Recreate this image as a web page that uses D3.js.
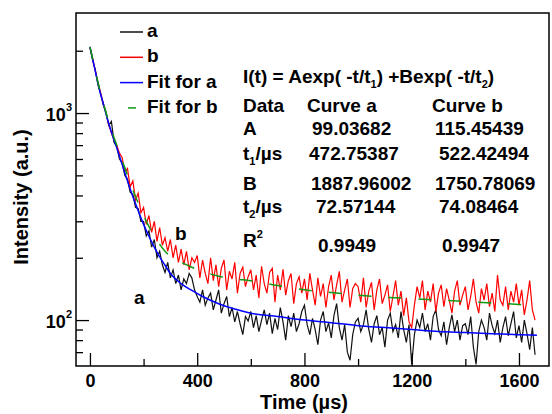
<!DOCTYPE html>
<html>
<head>
<meta charset="utf-8">
<script src="https://cdn.jsdelivr.net/npm/d3@7"></script>
<style>
  body { margin: 0; background: #fff; }
  svg text { font-family: "Liberation Sans", Arial, sans-serif; font-weight: bold; fill: #000; }
</style>
</head>
<body>
<div id="chart"></div>
<script>
// time axis for the measured decays, 10 us steps
var timeStep = 10;

// curve a (black), intensity in a.u.
var curveA = [
  2085, 1800, 1620, 1370, 1240, 1090, 1010, 870, 910, 720, 690, 600, 575, 500, 480, 415, 405, 350, 345, 300,
  300, 255, 270, 225, 245, 200, 215, 185, 170, 190, 160, 175, 150, 165, 140, 158, 150, 168, 160, 140,
  130, 122, 140, 118, 128, 135, 112, 125, 140, 108, 120, 130, 104, 115, 98, 110, 96, 85, 104, 99,
  110, 92, 105, 88, 100, 112, 95, 108, 86, 102, 90, 115, 98, 80, 105, 93, 108, 88, 96, 110,
  118, 95, 85, 102, 90, 76, 100, 110, 88, 97, 82, 105, 120, 92, 80, 95, 70, 64, 85, 98,
  102, 88, 95, 112, 90, 78, 96, 105, 85, 92, 74, 100, 108, 88, 95, 82, 110, 90, 78, 95,
  61, 85, 100, 92, 108, 88, 96, 80, 104, 112, 90, 84, 98, 76, 92, 106, 88, 100, 80, 94,
  96, 85, 104, 74, 61, 88, 100, 92, 80, 108, 94, 86, 100, 78, 92, 104, 84, 96, 110, 82,
  94, 78, 100, 86, 72, 92, 68
];

// curve b (red)
var curveB = [
  2085, 1830, 1600, 1400, 1250, 1110, 1000, 880, 800, 740, 700, 640, 610, 520, 540, 440, 470, 380, 410, 330,
  350, 290, 320, 265, 300, 240, 280, 230, 250, 215, 245, 200, 230, 190, 220, 185, 215, 175, 200, 190,
  205, 160, 195, 168, 150, 200, 155, 185, 145, 178, 195, 140, 172, 158, 190, 135, 168, 180, 145, 162,
  175, 140, 165, 128, 182, 150, 135, 170, 178, 122, 165, 140, 176, 132, 155, 168, 120, 150, 162, 135,
  158, 125, 168, 140, 118, 160, 130, 150, 115, 145, 165, 125, 148, 172, 122, 140, 158, 115, 142, 150,
  145, 122, 160, 115, 138, 152, 112, 140, 158, 120, 132, 148, 110, 130, 155, 118, 138, 105, 128, 98,
  92, 118, 145, 128, 155, 112, 138, 122, 150, 110, 135, 148, 116, 142, 125, 108, 138, 155, 118, 132,
  145, 112, 130, 158, 122, 108, 142, 125, 150, 116, 135, 110, 165, 125, 118, 145, 112, 138, 122, 150,
  118, 140, 106, 125, 155, 112, 100
];

// fitted curves
var fitTime = [0, 10, 20, 30, 40, 50, 60, 70, 80, 90, 100, 110, 120, 130, 140, 150, 160, 170, 180, 190,
  200, 220, 240, 260, 280, 300, 340, 380, 420, 480, 540, 600, 700, 800, 900, 1000, 1100, 1200, 1300,
  1400, 1500, 1600, 1667];
var fitA = [2085, 1820, 1590, 1390, 1230, 1110, 990, 890, 810, 740, 680, 620, 565, 515, 470, 430, 395, 365, 337, 312,
  290, 254, 225, 202, 184, 168, 150, 139, 130, 120, 113, 108, 104, 100, 97, 94, 92, 90, 88,
  87, 86, 85, 84.5];
var fitB = [2085, 1830, 1600, 1410, 1250, 1120, 1005, 910, 830, 760, 700, 640, 590, 545, 500, 460, 425, 395, 368, 342,
  320, 283, 255, 232, 215, 203, 190, 180, 172, 163, 158, 155, 147, 140, 136, 132, 129, 127, 125,
  123, 121, 119, 118];

var xTicks = [0, 400, 800, 1200, 1600];
var xMinor = [200, 600, 1000, 1400];
var yMajor = [100, 1000];
var yMinor = [70, 80, 90, 200, 300, 400, 500, 600, 700, 800, 900, 2000];

var legendLabels = ["a", "b", "Fit for a", "Fit for b"];

var tableHead = ["Data", "Curve a", "Curve b"];
var rowNames = ["A", "t1/µs", "B", "t2/µs", "R2"];
var paramsA = ["99.03682", "472.75387", "1887.96002", "72.57144", "0.9949"];
var paramsB = ["115.45439", "522.42494", "1750.78069", "74.08464", "0.9947"];

var colors = { a: "#111", b: "#ff0000", fitA: "#0000ff", fitB: "#119911" };

var W = 552, H = 414;
var plot = { left: 76, right: 549, top: 13, bottom: 366 };

var svg = d3.select("#chart").append("svg")
    .attr("width", W)
    .attr("height", H);

var x = d3.scaleLinear().domain([-52, 1712]).range([plot.left, plot.right]);
var y = d3.scaleLog().domain([60, 3043]).range([plot.bottom, plot.top]);

function series(vals, step) {
    return vals.map(function(v, i) { return { t: i * step, v: v }; });
}
function fitSeries(vals) {
    return vals.map(function(v, i) { return { t: fitTime[i], v: v }; });
}

var line = d3.line()
    .x(function(d) { return x(d.t); })
    .y(function(d) { return y(d.v); });
var smooth = d3.line()
    .x(function(d) { return x(d.t); })
    .y(function(d) { return y(d.v); })
    .curve(d3.curveMonotoneX);

var g = svg.append("g");

g.append("path").attr("d", line(series(curveA, timeStep)))
    .attr("fill", "none").attr("stroke", colors.a).attr("stroke-width", 1.2);
g.append("path").attr("d", line(series(curveB, timeStep)))
    .attr("fill", "none").attr("stroke", colors.b).attr("stroke-width", 1.2);
g.append("path").attr("d", smooth(fitSeries(fitA)))
    .attr("fill", "none").attr("stroke", colors.fitA).attr("stroke-width", 1.5);
g.append("path").attr("d", smooth(fitSeries(fitB)))
    .attr("fill", "none").attr("stroke", colors.fitB).attr("stroke-width", 1.5)
    .attr("stroke-dasharray", "13,17");

// axes, ticks pointing inward
var xAxis = svg.append("g")
    .attr("transform", "translate(0," + plot.bottom + ")")
    .call(d3.axisBottom(x).tickValues(xTicks).tickSizeInner(-13).tickSizeOuter(0)
        .tickPadding(8).tickFormat(d3.format("d")));
svg.append("g")
    .attr("transform", "translate(0," + plot.bottom + ")")
    .call(d3.axisBottom(x).tickValues(xMinor).tickSizeInner(-7).tickSizeOuter(0).tickFormat(""));
svg.append("g")
    .attr("transform", "translate(" + plot.left + ",0)")
    .call(d3.axisLeft(y).tickValues(yMajor).tickSizeInner(-13).tickSizeOuter(0).tickFormat(""));
svg.append("g")
    .attr("transform", "translate(" + plot.left + ",0)")
    .call(d3.axisLeft(y).tickValues(yMinor).tickSizeInner(-7).tickSizeOuter(0).tickFormat(""));
svg.selectAll(".domain").remove();
svg.selectAll(".tick line").attr("stroke", "#000").attr("stroke-width", 1.3);
xAxis.selectAll("text").attr("font-size", 18).attr("font-family", null);

svg.append("rect")
    .attr("x", plot.left).attr("y", plot.top)
    .attr("width", plot.right - plot.left).attr("height", plot.bottom - plot.top)
    .attr("fill", "none").attr("stroke", "#000").attr("stroke-width", 1.5);

// y tick labels 10^n
yMajor.forEach(function(v) {
    var t = svg.append("text")
        .attr("x", 72).attr("y", y(v) + 8)
        .attr("text-anchor", "end")
        .attr("font-size", 18);
    t.append("tspan").text("10");
    t.append("tspan").attr("font-size", 11).attr("dy", -10).text(Math.round(Math.log10(v)));
});

// axis titles
svg.append("text")
    .attr("x", 304).attr("y", 409)
    .attr("text-anchor", "middle")
    .attr("font-size", 20)
    .text("Time (µs)");
svg.append("text")
    .attr("transform", "translate(28,197) rotate(-90)")
    .attr("text-anchor", "middle")
    .attr("font-size", 20)
    .text("Intensity (a.u.)");

// legend
var legendColors = [colors.a, colors.b, colors.fitA, colors.fitB];
legendLabels.forEach(function(lab, i) {
    var by = 37 + i * 25.3;
    var l = svg.append("line")
        .attr("x1", 120).attr("x2", 143)
        .attr("y1", by - 5).attr("y2", by - 5)
        .attr("stroke", legendColors[i]).attr("stroke-width", 1.5);
    if (i == 3) l.attr("x1", 128).attr("x2", 136);
    svg.append("text")
        .attr("x", 147).attr("y", by)
        .attr("font-size", 19)
        .text(lab);
});

// curve labels
svg.append("text").attr("x", 175).attr("y", 240).attr("font-size", 19).text("b");
svg.append("text").attr("x", 134).attr("y", 304).attr("font-size", 19).text("a");

// formula and fit table
function subText(sel, str) {
    // "t1/µs" -> t with subscript 1, "R2" -> superscript
    if (str == "R2") {
        sel.append("tspan").text("R");
        sel.append("tspan").attr("font-size", 11).attr("dy", -9).text("2");
        return;
    }
    if (str.charAt(0) == "t" && str.length > 1) {
        sel.append("tspan").text("t");
        sel.append("tspan").attr("font-size", 11).attr("dy", 5).text(str.charAt(1));
        sel.append("tspan").attr("dy", -5).text(str.slice(2));
        return;
    }
    sel.append("tspan").text(str);
}

var fs = 19;
var f = svg.append("text").attr("x", 243).attr("y", 83).attr("font-size", fs);
f.append("tspan").text("I(t) = Aexp( -t/t");
f.append("tspan").attr("font-size", 11).attr("dy", 5).text("1");
f.append("tspan").attr("dy", -5).text(") +Bexp( -t/t");
f.append("tspan").attr("font-size", 11).attr("dy", 5).text("2");
f.append("tspan").attr("dy", -5).text(")");

var colX = [243, 307, 432];
tableHead.forEach(function(h, i) {
    svg.append("text").attr("x", colX[i]).attr("y", 112).attr("font-size", fs).text(h);
});
var rowY = [135, 160, 190, 213, 247];
var valY = [135, 160, 190, 213, 252];
var valXA = [312, 309, 311, 316, 318];
var valXB = [435, 439, 435, 439, 442];
rowNames.forEach(function(r, i) {
    subText(svg.append("text").attr("x", 243).attr("y", rowY[i]).attr("font-size", fs), r);
    svg.append("text").attr("x", valXA[i]).attr("y", valY[i]).attr("font-size", fs).text(paramsA[i]);
    svg.append("text").attr("x", valXB[i]).attr("y", valY[i]).attr("font-size", fs).text(paramsB[i]);
});
</script>
</body>
</html>
